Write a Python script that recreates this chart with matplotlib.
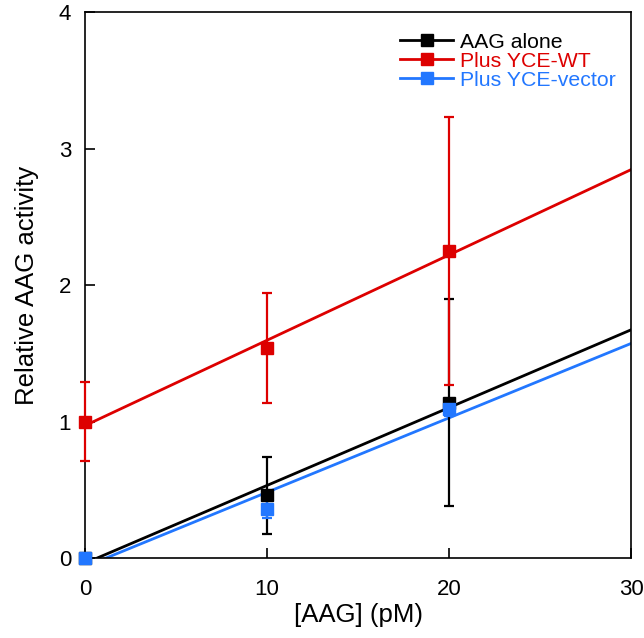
import numpy as np
import matplotlib.pyplot as plt

plt.rcParams['font.family'] = ['Liberation Sans', 'DejaVu Sans']

# AAG concentration (pM)
aag_pm = [0, 10, 20]

alone = [0.0, 0.46, 1.14]
alone_err = [0.0, 0.285, 0.76]

wt = [1.0, 1.54, 2.25]
wt_err = [0.29, 0.40, 0.98]

vec = [0.0, 0.36, 1.09]
vec_err = [0.0, 0.065, 0.05]

series = [
    ('AAG alone', alone, alone_err, '#000000'),
    ('Plus YCE-WT', wt, wt_err, '#dd0000'),
    ('Plus YCE-vector', vec, vec_err, '#2277ff'),
]

fig = plt.figure(figsize=(6.44, 6.38), dpi=100)
ax = fig.add_axes([0.132, 0.125, 0.848, 0.856])

xx = np.array([0, 30])
handles = []
for name, y, err, col in series:
    # linear fit through the points
    k, b = np.polyfit(aag_pm, y, 1)
    ax.plot(xx, k * xx + b, color=col, lw=2)
    ax.errorbar(aag_pm, y, yerr=err, fmt='s', color=col, ms=9,
                elinewidth=1.6, capsize=3.5, capthick=1.6, clip_on=False, zorder=3)
    handles.append(ax.plot([], [], color=col, lw=2, marker='s', ms=9)[0])

ax.set_xlim(0, 30)
ax.set_ylim(0, 4)
ax.set_xticks([0, 10, 20, 30])
ax.set_yticks([0, 1, 2, 3, 4])
for s in ax.spines.values():
    s.set_linewidth(1.2)
ax.tick_params(direction='in', labelsize=16, length=7, width=1.2)
ax.tick_params(axis='x', pad=15)
ax.tick_params(axis='y', pad=10)
ax.set_xlabel('[AAG] (pM)', fontsize=18.5, labelpad=2)
ax.set_ylabel('Relative AAG activity', fontsize=18.5, labelpad=14)

leg = ax.legend(handles, [s[0] for s in series], loc='upper right',
                bbox_to_anchor=(1.006, 0.997), frameon=False, fontsize=15.3,
                handlelength=2.5, handletextpad=0.3, labelspacing=0.0)
for t, s in zip(leg.get_texts(), series):
    t.set_color(s[3])

fig.savefig('out.png', dpi=100)
